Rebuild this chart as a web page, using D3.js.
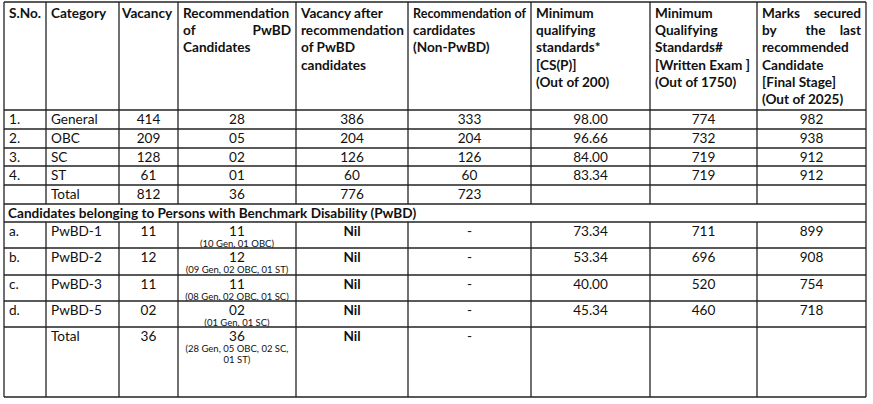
<!DOCTYPE html><html><head><meta charset="utf-8">
<script src="https://cdn.jsdelivr.net/npm/d3@7"></script>
<style>body{margin:0;background:#fff}svg{display:block}text{font-family:Lato,"Open Sans",sans-serif;fill:#111}</style></head>
<body><svg id="c" width="873" height="404"></svg>
<script>
const headers=[["S.No."],["Category"],["Vacancy"],["Recommendation",["of","PwBD"],"Candidates"],["Vacancy after","recommendation","of PwBD","candidates"],["Recommendation of","cardidates","(Non-PwBD)"],["Minimum","qualifying","standards*","[CS(P)]","(Out of 200)"],["Minimum","Qualifying","Standards#","[Written Exam ]","(Out of 1750)"],[["Marks","secured"],["by","the","last"],"recommended","Candidate","[Final Stage]","(Out of 2025)"]];
const sno=["1.","2.","3.","4.",""];
const categories=["General","OBC","SC","ST","Total"];
const vacancy=["414","209","128","61","812"];
const recPwBD=["28","05","02","01","36"];
const vacAfter=["386","204","126","60","776"];
const recNonPwBD=["333","204","126","60","723"];
const minCSP=["98.00","96.66","84.00","83.34",""];
const minWritten=["774","732","719","719",""];
const lastMarks=["982","938","912","912",""];
const sectionTitle="Candidates belonging to Persons with Benchmark Disability (PwBD)";
const pSno=["a.","b.","c.","d.",""];
const pCat=["PwBD-1","PwBD-2","PwBD-3","PwBD-5","Total"];
const pVac=["11","12","11","02","36"];
const pRec=["11","12","11","02","36"];
const pRecNote=[["(10 Gen, 01 OBC)"],["(09 Gen, 02 OBC, 01 ST)"],["(08 Gen, 02 OBC, 01 SC)"],["(01 Gen, 01 SC)"],["(28 Gen, 05 OBC, 02 SC,","01 ST)"]];
const pAfter=["Nil","Nil","Nil","Nil","Nil"];
const pNon=["-","-","-","-","-"];
const pCSP=["73.34","53.34","40.00","45.34",""];
const pWritten=["711","696","520","460",""];
const pMarks=["899","908","754","718",""];

const colEdges=[4,46,119,178,296,408,531,650,757,866];
const rowEdges=[2,110,129,148,166,185,204,222,248,275,301,327,397];
const svg=d3.select("#c");
const x=i=>colEdges[i], cx=i=>(colEdges[i]+colEdges[i+1])/2;
const g=svg.append("g");
function T(xp,y,s,o={}){const t=g.append("text").attr("x",xp).attr("y",y).attr("font-size",o.fs||13.6).attr("font-weight",o.b?"bold":null).attr("text-anchor",o.a||"start").text(s);if(o.len)t.attr("textLength",o.len).attr("lengthAdjust","spacingAndGlyphs");return t;}
headers.forEach((lines,c)=>{lines.forEach((ln,k)=>{const y=18+k*17.2;
 if(Array.isArray(ln)){const l=x(c)+5,r=x(c+1)-5;
   ln.forEach((w,j)=>{const a=j==0?"start":(j==ln.length-1?"end":"middle");const xp=j==0?l:(j==ln.length-1?r:(l+r)/2+4);T(xp,y,w,{b:1,a});});}
 else T(c==2?x(c)+3:x(c)+5,y,ln,{b:1,len:(c==5&&k==0)?113:null});});});
const topCols=[sno,categories,vacancy,recPwBD,vacAfter,recNonPwBD,minCSP,minWritten,lastMarks];
categories.forEach((_,r)=>{const y=rowEdges[r+1]+14;
 topCols.forEach((arr,c)=>{if(c<2)T(x(c)+5,y,arr[r]);else T(cx(c),y,arr[r],{a:"middle"});});});
T(x(0)+4,rowEdges[6]+14,sectionTitle,{b:1});
const pCols=[pSno,pCat,pVac,pRec,pAfter,pNon,pCSP,pWritten,pMarks];
pCat.forEach((_,r)=>{const top=rowEdges[r+7],y=top+14;
 pCols.forEach((arr,c)=>{if(c<2)T(x(c)+5,y,arr[r]);else T(cx(c),y,arr[r],{a:"middle",b:c==4});});
 pRecNote[r].forEach((n,k)=>T(cx(3),top+25+k*11,n,{a:"middle",fs:9.5}));});
const L=(x1,y1,x2,y2)=>g.append("line").attr("x1",x1).attr("y1",y1).attr("x2",x2).attr("y2",y2).attr("stroke","#222").attr("stroke-width",1.3);
rowEdges.forEach(y=>L(x(0),y,x(9),y));
colEdges.forEach(xx=>{L(xx,rowEdges[0],xx,rowEdges[6]);L(xx,rowEdges[7],xx,rowEdges[12]);});
L(x(0),rowEdges[6],x(0),rowEdges[7]);L(x(9),rowEdges[6],x(9),rowEdges[7]);
</script></body></html>
